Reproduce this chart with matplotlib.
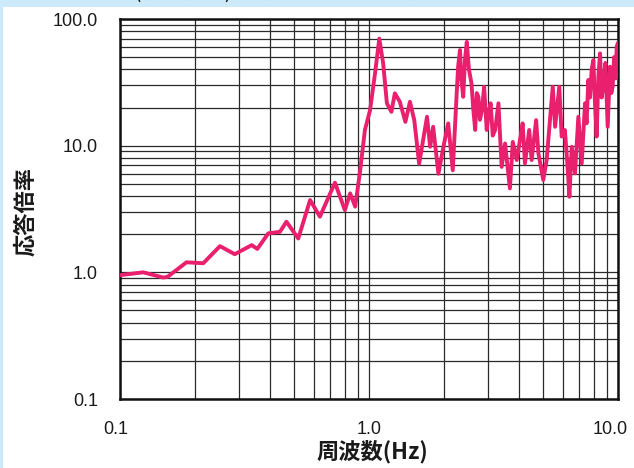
import matplotlib
matplotlib.use("Agg")
import matplotlib.pyplot as plt
import matplotlib.transforms as mtransforms
from matplotlib.patches import Rectangle
from matplotlib.ticker import FixedLocator, NullFormatter

# Frequency response of the structure: response magnification vs frequency
freq_hz = [0.1, 0.124, 0.149, 0.155, 0.185, 0.216, 0.252, 0.289, 0.338, 0.356,
           0.394, 0.439, 0.466, 0.52, 0.58, 0.635, 0.73, 0.80, 0.84, 0.88,
           0.92, 0.963, 1.01, 1.057, 1.10, 1.14, 1.18, 1.23, 1.27, 1.33,
           1.40, 1.46, 1.52, 1.59, 1.71, 1.76, 1.81, 1.90, 1.99, 2.08,
           2.17, 2.25, 2.28, 2.32, 2.35, 2.39, 2.43, 2.47, 2.52, 2.58,
           2.62, 2.67, 2.71, 2.75, 2.79, 2.84, 2.90, 2.97, 3.02, 3.08,
           3.14, 3.21, 3.31, 3.41, 3.52, 3.68, 3.78, 3.92, 4.04, 4.14,
           4.23, 4.40, 4.50, 4.69, 4.79, 5.01, 5.17, 5.33, 5.47, 5.59,
           5.81, 5.94, 6.12, 6.26, 6.38, 6.52, 6.72, 6.93, 7.15, 7.37,
           7.48, 7.6, 7.72, 7.84, 7.96, 8.08, 8.21, 8.34, 8.47, 8.6,
           8.73, 8.9, 9.09, 9.29, 9.4, 9.52, 9.65, 9.78, 9.88, 10.0]
magnification = [0.95, 1.0, 0.91, 0.92, 1.2, 1.18, 1.61, 1.39, 1.64, 1.53,
                 2.03, 2.09, 2.51, 1.85, 3.72, 2.75, 5.1, 3.1, 4.2, 3.3,
                 6.2, 13.3, 19.1, 37.0, 70.0, 44.6, 21.6, 18.5, 25.9, 22.2,
                 15.4, 22.2, 15.9, 7.2, 16.9, 9.8, 14.1, 6.0, 9.8, 15.0,
                 6.4, 25.9, 42.0, 56.9, 33.0, 24.3, 48.0, 66.0, 40.0, 31.0,
                 20.0, 13.3, 26.0, 24.3, 16.0, 19.0, 29.1, 13.3, 18.0, 21.6,
                 12.0, 13.3, 21.6, 6.8, 10.4, 4.6, 10.7, 7.7, 11.1, 15.0,
                 7.25, 13.3, 7.7, 15.9, 8.7, 5.35, 7.7, 15.9, 29.2, 14.1,
                 29.2, 11.8, 13.3, 7.25, 3.95, 9.8, 6.04, 16.9, 7.25, 21.6,
                 15.0, 33.0, 24.0, 40.0, 47.4, 22.0, 11.8, 35.0, 53.5, 24.0,
                 29.2, 45.0, 14.1, 42.0, 26.0, 29.2, 50.0, 34.0, 60.4, 65.0]

x_ticks = [0.1, 1.0, 10.0]
x_tick_labels = ["0.1", "1.0", "10.0"]
y_ticks = [0.1, 1.0, 10.0, 100.0]
y_tick_labels = ["0.1", "1.0", "10.0", "100.0"]

W, H, DPI = 634, 468, 100
fig = plt.figure(figsize=(W / DPI, H / DPI), dpi=DPI)
fig.patch.set_facecolor("#cdeafb")
# white sheet behind the chart
fig.patches.append(Rectangle((3 / W, 0), 1, (H - 7) / H, transform=fig.transFigure,
                             facecolor="white", edgecolor="none", zorder=-5))

cjk = ["Noto Sans CJK JP", "DejaVu Sans"]
fig.text(30 / W, 1 + 2 / H, "入力加速度(水平方向)に対する応答倍率特性", family=cjk,
         fontsize=15, color="#111111", ha="left", va="baseline", zorder=-4)

ax = fig.add_axes([120 / W, (H - 399) / H, (618 - 120) / W, (399 - 19) / H])
ax.set_facecolor("white")
ax.set_xscale("log")
ax.set_yscale("log")
ax.set_xlim(0.1, 10.0)
ax.set_ylim(0.1, 100.0)

ax.plot(freq_hz, magnification, color="#ea1f6e", lw=2.8, solid_joinstyle="round",
        solid_capstyle="round", zorder=3)

ax.xaxis.set_major_locator(FixedLocator(x_ticks))
ax.yaxis.set_major_locator(FixedLocator(y_ticks))
ax.xaxis.set_minor_locator(FixedLocator([m * d for d in (0.1, 1.0) for m in range(2, 10)]))
ax.yaxis.set_minor_locator(FixedLocator([m * d for d in (0.1, 1.0, 10.0) for m in range(2, 10)]))
ax.xaxis.set_minor_formatter(NullFormatter())
ax.yaxis.set_minor_formatter(NullFormatter())
ax.set_xticklabels(x_tick_labels)
ax.set_yticklabels(y_tick_labels)

ax.grid(True, which="both", color="#2a2a2a", lw=0.9, zorder=1)
ax.tick_params(which="both", length=0)
ax.tick_params(axis="x", pad=16, labelsize=13, labelcolor="#1a1a1a")
ax.tick_params(axis="y", pad=16, labelsize=13, labelcolor="#1a1a1a")
for lab in ax.get_xticklabels() + ax.get_yticklabels():
    lab.set_family("Liberation Sans")
# pull the end labels of the x axis slightly inward
xlabs = ax.get_xticklabels()
for lab, dx in zip(xlabs, (-4, 0, -8)):
    lab.set_transform(lab.get_transform() +
                      mtransforms.ScaledTranslation(dx / DPI, 0, fig.dpi_scale_trans))
for sp in ax.spines.values():
    sp.set_linewidth(1.8)
    sp.set_color("#111111")

fig.text(372 / W, 1 - 452 / H, "周波数(Hz)", family=cjk, fontsize=16, weight="bold",
         color="#1a1a1a", ha="center", va="center")
fig.text(26 / W, 1 - 212 / H, "応答倍率", family=cjk, fontsize=16, weight="bold",
         color="#1a1a1a", ha="center", va="center", rotation=90)

fig.savefig("out.png", dpi=DPI)
